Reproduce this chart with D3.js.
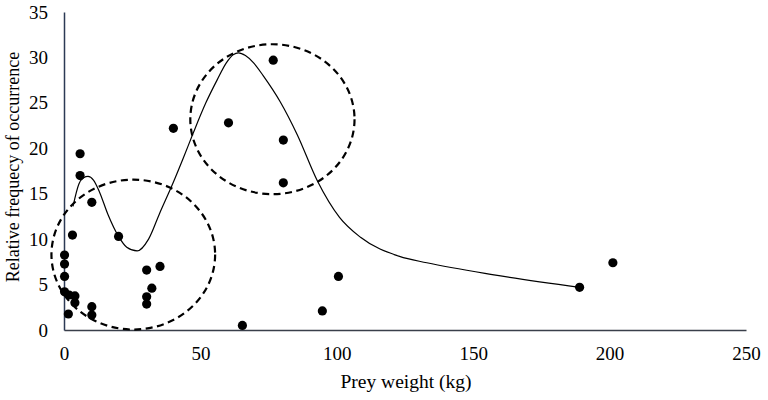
<!DOCTYPE html>
<html>
<head>
<meta charset="utf-8">
<script src="https://cdn.jsdelivr.net/npm/d3@7"></script>
<style>
  html, body { margin: 0; padding: 0; background: #fff; }
  svg { display: block; }
  text { font-family: "Liberation Serif", "Times New Roman", serif; fill: #000; }
</style>
</head>
<body>
<svg id="chart" width="768" height="400"></svg>
<script>
// Observed points
const preyWeight = [10.2, 3.1, 20, 0.2, 0.2, 0.2, 0.2, 1.9, 4, 4, 1.6, 10.2, 10.2, 30.3, 35.2, 32.2, 30.3, 30.3, 65.4, 5.9, 5.9, 40.1, 60.3, 76.7, 80.4, 80.4, 100.6, 94.7, 189, 201.2];
const frequency  = [14.05, 10.45, 10.3, 8.25, 7.26, 5.9, 4.2, 3.85, 3.75, 3.0, 1.76, 2.57, 1.65, 6.6, 7.0, 4.6, 3.66, 2.85, 0.5, 19.4, 17.0, 22.2, 22.8, 29.7, 20.9, 16.2, 5.9, 2.1, 4.7, 7.4];

// Smoothed trend line
const trendWeight = [3.3, 5.5, 7.2, 8.8, 10.8, 13, 16, 20, 23, 26.8, 31, 35, 40, 43.7, 47.4, 52, 56.1, 59.5, 62, 64, 66.5, 69.5, 73, 79.3, 85.5, 92.9, 101, 108.7, 123, 133, 157, 189];
const trendFreq   = [13.6, 16.1, 16.75, 16.9, 16.5, 15.2, 12.8, 10.3, 9.1, 8.7, 10.0, 12.8, 16.2, 18.9, 21.7, 25.0, 27.5, 29.4, 30.3, 30.5, 30.2, 29.4, 28.0, 25.1, 21.5, 16.4, 12.4, 10.2, 8.1, 7.4, 6.1, 4.7];

// Dashed group ellipses: centre x, centre y, radius x, radius y (data units)
const groupCx = [25.4, 76.4];
const groupCy = [8.3, 23.2];
const groupRx = [30.0, 30.1];
const groupRy = [8.25, 8.25];

const xTicks = [0, 50, 100, 150, 200, 250];
const yTicks = [0, 5, 10, 15, 20, 25, 30, 35];
const xTitle = "Prey weight (kg)";
const yTitle = "Relative frequecy of occurrence";

const svg = d3.select("#chart");
const x = d3.scaleLinear().domain([0, 250]).range([64, 746]);
const y = d3.scaleLinear().domain([0, 35]).range([330, 12]);

// axes
const xAxis = svg.append("g").attr("transform", `translate(0,${y(0)})`)
  .call(d3.axisBottom(x).tickValues(xTicks).tickSize(0).tickPadding(17).tickFormat(d3.format("d")));
xAxis.select(".domain").attr("stroke", "#3a3f4a").attr("stroke-width", 1.3);
xAxis.selectAll("text").style("font-size", "19px").style("font-family", "Liberation Serif");

const yAxis = svg.append("g").attr("transform", `translate(${x(0)},0)`)
  .call(d3.axisLeft(y).tickValues(yTicks).tickSize(0).tickPadding(16).tickFormat(d3.format("d")));
yAxis.select(".domain").attr("stroke", "#2c3a55").attr("stroke-width", 1.5);
yAxis.selectAll("text").style("font-size", "19px").style("font-family", "Liberation Serif");

// titles
svg.append("text").attr("x", 406).attr("y", 388).attr("text-anchor", "middle")
  .style("font-size", "19.5px").text(xTitle);
svg.append("text").attr("transform", "translate(19,167) rotate(-90)")
  .attr("text-anchor", "middle").style("font-size", "18px").text(yTitle);

// dashed ellipses
svg.append("g").selectAll("ellipse").data(groupCx).join("ellipse")
  .attr("cx", (d) => x(d))
  .attr("cy", (d, i) => y(groupCy[i]))
  .attr("rx", (d, i) => x(d + groupRx[i]) - x(d))
  .attr("ry", (d, i) => y(groupCy[i]) - y(groupCy[i] + groupRy[i]))
  .attr("fill", "none").attr("stroke", "#000").attr("stroke-width", 2.2)
  .attr("stroke-dasharray", "7,4.5");

// trend line
const trend = trendWeight.map((w, i) => [w, trendFreq[i]]);
svg.append("path").datum(trend)
  .attr("d", d3.line().x((d) => x(d[0])).y((d) => y(d[1])).curve(d3.curveMonotoneX))
  .attr("fill", "none").attr("stroke", "#000").attr("stroke-width", 1.2);

// points
svg.append("g").selectAll("circle").data(preyWeight).join("circle")
  .attr("cx", (d) => x(d))
  .attr("cy", (d, i) => y(frequency[i]))
  .attr("r", 4.6).attr("fill", "#000");
</script>
</body>
</html>
